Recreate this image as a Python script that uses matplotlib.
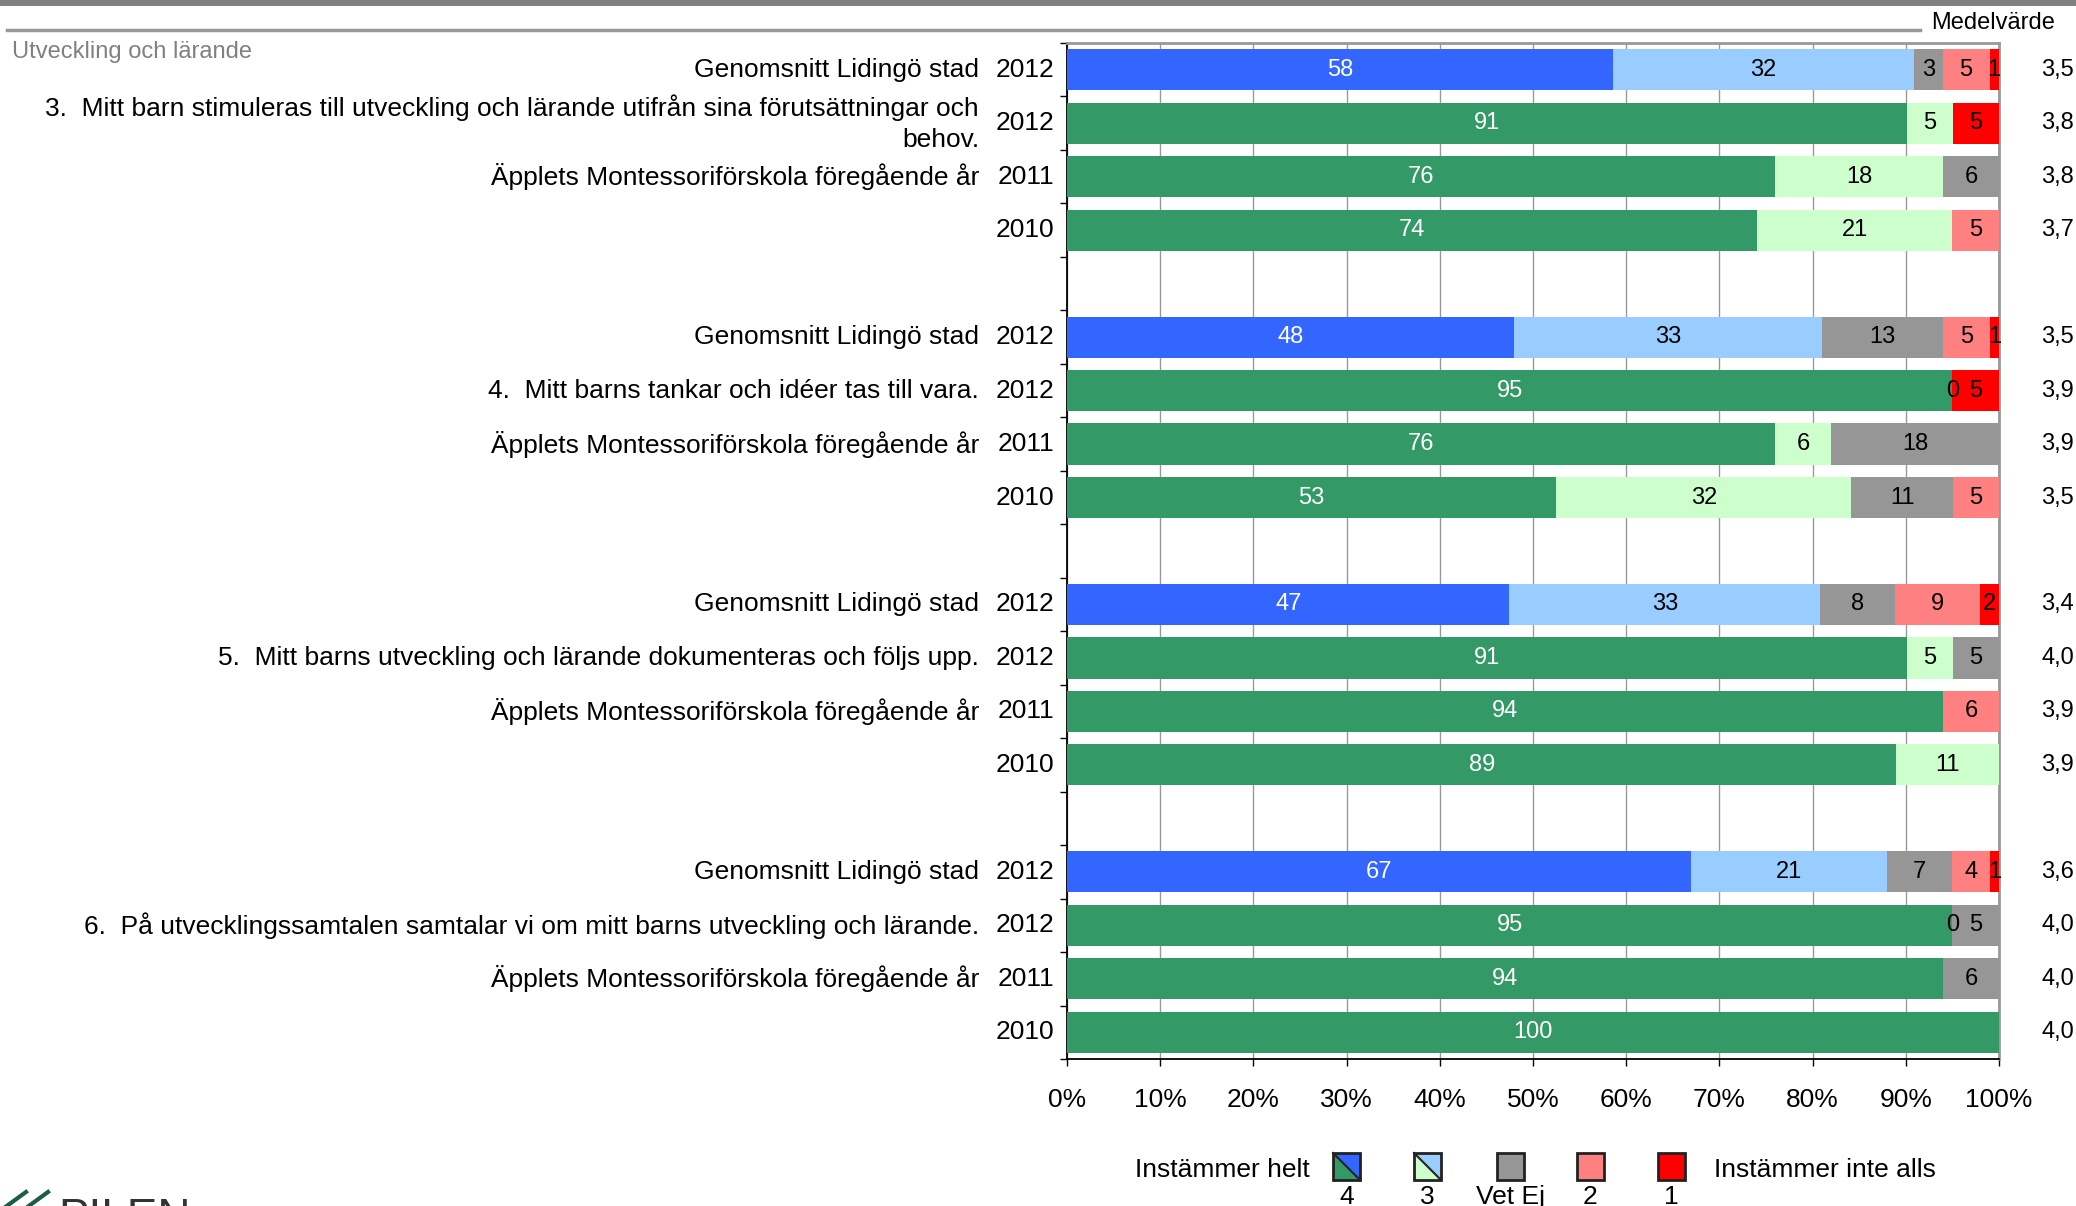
import matplotlib
matplotlib.use("Agg")
import matplotlib.pyplot as plt
import matplotlib.transforms as mtransforms
from matplotlib.patches import Rectangle, Polygon
from matplotlib.lines import Line2D
import numpy as np

plt.rcParams['font.family'] = ['Liberation Sans', 'DejaVu Sans']

# ── data ────────────────────────────────────────────────────────────────────
questions = [
    "3.  Mitt barn stimuleras till utveckling och lärande utifrån sina förutsättningar och\nbehov.",
    "4.  Mitt barns tankar och idéer tas till vara.",
    "5.  Mitt barns utveckling och lärande dokumenteras och följs upp.",
    "6.  På utvecklingssamtalen samtalar vi om mitt barns utveckling och lärande.",
]
row_names = ["Genomsnitt Lidingö stad", None, "Äpplets Montessoriförskola föregående år", ""]
years = ["2012", "2012", "2011", "2010"]

# one entry per bar (4 bars per question), None = no segment
svar_4 = [58, 91, 76, 74,   48, 95, 76, 53,   47, 91, 94, 89,   67, 95, 94, 100]
svar_3 = [32, 5, 18, 21,    33, 0, 6, 32,     33, 5, None, 11,  21, 0, None, None]
vet_ej = [3, None, 6, None, 13, None, 18, 11, 8, 5, None, None, 7, 5, 6, None]
svar_2 = [5, None, None, 5, 5, None, None, 5, 9, None, 6, None, 4, None, None, None]
svar_1 = [1, 5, None, None, 1, 5, None, None, 2, None, None, None, 1, None, None, None]
medel = ["3,5", "3,8", "3,8", "3,7", "3,5", "3,9", "3,9", "3,5",
         "3,4", "4,0", "3,9", "3,9", "3,6", "4,0", "4,0", "4,0"]

legend_labels = ["4", "3", "Vet Ej", "2", "1"]

# ── colours ─────────────────────────────────────────────────────────────────
C_BLUE, C_LBLUE = "#3366FF", "#99CCFF"
C_GREEN, C_LGREEN = "#339966", "#CCFFCC"
C_GRAY, C_PINK, C_RED = "#969696", "#FF8080", "#FF0000"
avg_colors = [C_BLUE, C_LBLUE, C_GRAY, C_PINK, C_RED]
sch_colors = [C_GREEN, C_LGREEN, C_GRAY, C_PINK, C_RED]

W, H = 2076, 1206
fig = plt.figure(figsize=(W / 100, H / 100), dpi=100)
fx = lambda px: px / W
fy = lambda py: 1 - py / H

ax = fig.add_axes([fx(1067), fy(1059), fx(1999) - fx(1067), fy(43) - fy(1059)])

series = [svar_4, svar_3, vet_ej, svar_2, svar_1]
FS = 19
for i in range(len(svar_4)):
    g, r = divmod(i, 4)
    y = g * 5 + r
    vals = [s[i] for s in series]
    total = sum(v for v in vals if v is not None)
    colors = avg_colors if r == 0 else sch_colors
    left = 0.0
    for k, v in enumerate(vals):
        if v is None:
            continue
        w = v / total * 100
        ax.barh(y, w, left=left, height=0.77, color=colors[k], edgecolor="none", zorder=3)
        ax.text(left + w / 2, y, str(v), ha="center", va="center", fontsize=17,
                color="white" if k == 0 else "black", zorder=4)
        left += w

# axes styling
ax.set_xlim(0, 100)
ax.set_ylim(18.5, -0.5)
ax.set_xticks(np.arange(0, 101, 10))
ax.set_xticklabels([f"{v}%" for v in range(0, 101, 10)], fontsize=FS)
ax.set_yticks(np.arange(-0.5, 19, 1))
ax.set_yticklabels([])
ax.tick_params(axis="x", length=5, width=1, pad=16)
ax.tick_params(axis="y", length=5, width=1)
ax.grid(axis="x", color="#999999", lw=1, zorder=0)
ax.set_axisbelow(True)
for s in ("top", "right"):
    ax.spines[s].set_color("#999999")
    ax.spines[s].set_linewidth(2)
for s in ("left", "bottom"):
    ax.spines[s].set_color("black")
    ax.spines[s].set_linewidth(1.3)

# row labels
tr = mtransforms.blended_transform_factory(fig.transFigure, ax.transData)
for g, q in enumerate(questions):
    for r in range(4):
        y = g * 5 + r
        name = q if row_names[r] is None else row_names[r]
        if name:
            ax.text(fx(979), y, name, transform=tr, ha="right", va="center",
                    fontsize=FS, linespacing=1.4)
        ax.text(fx(1054), y, years[r], transform=tr, ha="right", va="center", fontsize=FS)
        ax.text(fx(2041), y, medel[g * 4 + r], transform=tr, ha="left",
                va="center", fontsize=17)

# header
fig.add_artist(Rectangle((0, fy(6)), 1, fy(0) - fy(6), transform=fig.transFigure,
                         color="#808080", lw=0))
fig.add_artist(Line2D([fx(7), fx(1920)], [fy(30), fy(30)], transform=fig.transFigure,
                      color="#999999", lw=2.5))
fig.text(fx(1931), fy(23), "Medelvärde", ha="left", va="center", fontsize=17)
fig.text(fx(12), fy(52), "Utveckling och lärande", ha="left", va="center",
         fontsize=17, color="#808080")

# legend
box_x = [1333, 1414, 1497, 1577, 1658]
bw, by0, by1 = 27, 1153, 1180
legend_fill = [(C_GREEN, C_BLUE), (C_LGREEN, C_LBLUE), (C_GRAY, None), (C_PINK, None), (C_RED, None)]
for x0, (c1, c2), lab in zip(box_x, legend_fill, legend_labels):
    if c2 is None:
        fig.add_artist(Rectangle((fx(x0), fy(by1)), fx(bw), fy(by0) - fy(by1),
                                 transform=fig.transFigure, fc=c1, ec="#222222", lw=2))
    else:
        fig.add_artist(Polygon([(fx(x0), fy(by0)), (fx(x0), fy(by1)), (fx(x0 + bw), fy(by1))],
                               closed=True, transform=fig.transFigure, fc=c1, ec="none"))
        fig.add_artist(Polygon([(fx(x0), fy(by0)), (fx(x0 + bw), fy(by0)), (fx(x0 + bw), fy(by1))],
                               closed=True, transform=fig.transFigure, fc=c2, ec="none"))
        fig.add_artist(Line2D([fx(x0), fx(x0 + bw)], [fy(by0), fy(by1)],
                              transform=fig.transFigure, color="#222222", lw=1.5))
        fig.add_artist(Rectangle((fx(x0), fy(by1)), fx(bw), fy(by0) - fy(by1),
                                 transform=fig.transFigure, fc="none", ec="#222222", lw=2))
    fig.text(fx(x0 + bw / 2), fy(1197), lab, ha="center", va="center", fontsize=FS)
fig.text(fx(1310), fy(1170), "Instämmer helt", ha="right", va="center", fontsize=FS)
fig.text(fx(1714), fy(1170), "Instämmer inte alls", ha="left", va="center", fontsize=FS)

# logo (cut off at the bottom edge)
for x0 in (4, 26):
    fig.add_artist(Line2D([fx(x0), fx(x0 + 22)], [fy(1208), fy(1192)],
                          transform=fig.transFigure, color="#1d5c45", lw=3))
fig.text(fx(58), fy(1197), "PILEN", ha="left", va="top", fontsize=33,
         color="#333333", fontweight="light")

fig.savefig("out.png", dpi=100)
